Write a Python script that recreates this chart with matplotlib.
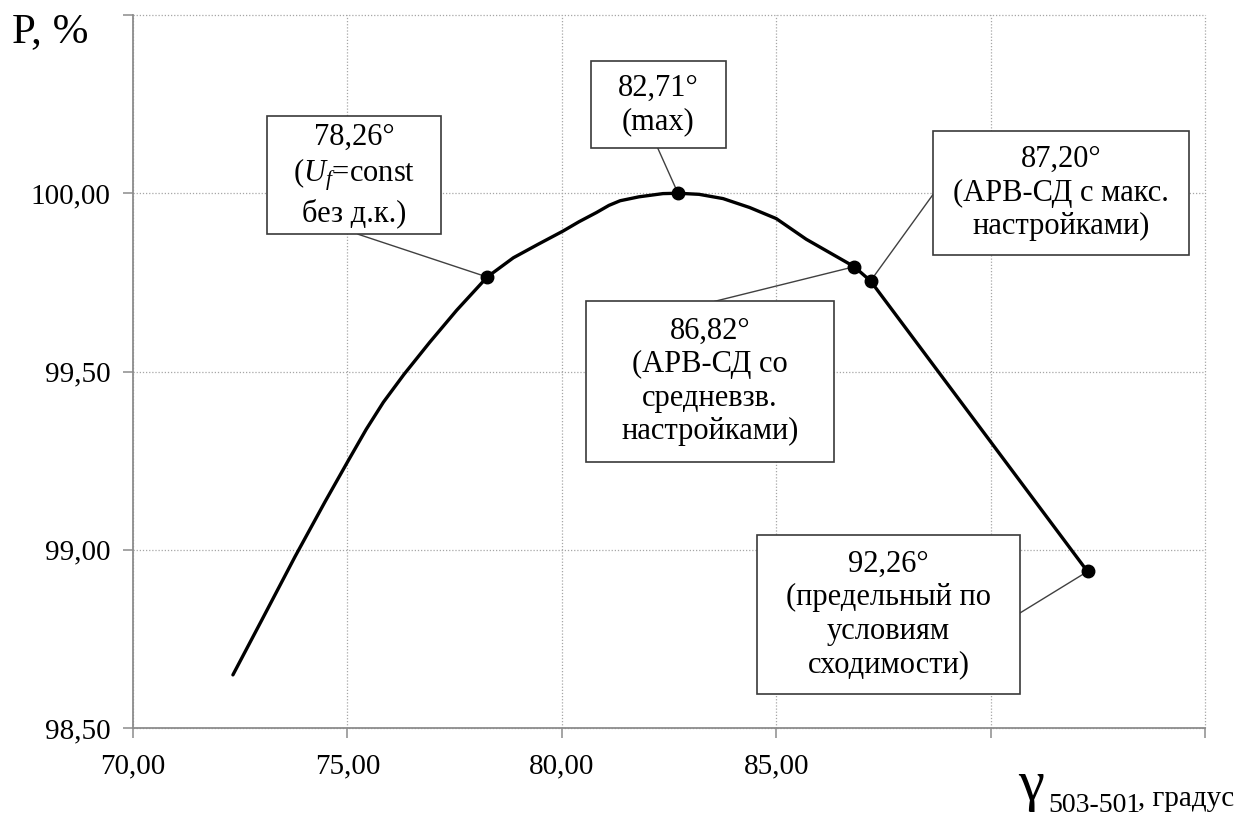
import matplotlib
matplotlib.use("Agg")
import matplotlib.pyplot as plt
from matplotlib.patches import Rectangle

plt.rcParams['font.family'] = ['Liberation Serif', 'DejaVu Serif']
plt.rcParams['mathtext.fontset'] = 'custom'
plt.rcParams['mathtext.rm'] = 'Liberation Serif'
plt.rcParams['mathtext.it'] = 'Liberation Serif:italic'

# Power transfer vs. angle gamma_503-501
curve_x = [72.33, 73.00, 73.78, 74.48, 75.02, 75.44, 75.84, 76.32, 76.92, 77.55,
           78.26, 78.87, 79.45, 80.03, 80.40, 80.81, 81.10, 81.36, 81.80, 82.36,
           82.71, 83.20, 83.76, 84.38, 85.00, 85.70, 86.82, 87.20, 92.26]
curve_y = [98.649, 98.802, 98.981, 99.135, 99.250, 99.338, 99.414, 99.492, 99.582,
           99.672, 99.765, 99.819, 99.857, 99.894, 99.920, 99.946, 99.966, 99.979,
           99.990, 99.999, 100.000, 99.997, 99.985, 99.960, 99.929, 99.871, 99.794,
           99.754, 98.939]

# Highlighted operating points
point_x = [78.26, 82.71, 86.82, 87.20, 92.26]
point_y = [99.765, 100.000, 99.794, 99.754, 98.939]
point_labels = [
    "78,26°\n($U_f$=const\nбез д.к.)",
    "82,71°\n(max)",
    "86,82°\n(АРВ-СД со\nсредневзв.\nнастройками)",
    "87,20°\n(АРВ-СД с макс.\nнастройками)",
    "92,26°\n(предельный по\nусловиям\nсходимости)",
]

x_ticks = [70, 75, 80, 85, 90, 95]
x_tick_labels = ["70,00", "75,00", "80,00", "85,00", "", ""]
y_ticks = [98.5, 99.0, 99.5, 100.0, 100.5]
y_tick_labels = ["98,50", "99,00", "99,50", "100,00", ""]

# Callout layout: box (x0, x1, y0, y1) in data units and leader start point
boxes = [
    (73.13, 77.18, 99.885, 100.216),
    (80.68, 83.83, 100.126, 100.371),
    (80.56, 86.35, 99.247, 99.697),
    (88.66, 94.63, 99.826, 100.174),
    (84.55, 90.69, 98.596, 99.042),
]
leader_start = [
    (75.25, 99.885),
    (82.24, 100.126),
    (83.57, 99.697),
    (88.66, 99.997),
    (90.69, 98.823),
]

W, H = 1241, 816
fig = plt.figure(figsize=(W / 100, H / 100), dpi=100)
ax = fig.add_axes([133 / W, 1 - 728 / H, (1205 - 133) / W, (728 - 15) / H])
ax.set_xlim(70, 95)
ax.set_ylim(98.5, 100.5)

axis_grey = '#8c8c8c'
ax.set_xticks(x_ticks)
ax.set_xticklabels(x_tick_labels)
ax.set_yticks(y_ticks)
ax.set_yticklabels(y_tick_labels)
ax.tick_params(axis='both', direction='out', length=7, width=1.1, color=axis_grey,
               labelsize=21, labelcolor='black')
ax.tick_params(axis='y', pad=9)
ax.tick_params(axis='x', pad=11)

for side in ('top', 'right'):
    ax.spines[side].set_visible(False)
for side in ('left', 'bottom'):
    ax.spines[side].set_color(axis_grey)
    ax.spines[side].set_linewidth(1.3)

ax.grid(True, color='#a6a6a6', linestyle=(0, (1, 1.5)), linewidth=0.9)
for gl in ax.get_xgridlines() + ax.get_ygridlines():
    gl.set_clip_on(False)
ax.set_axisbelow(True)

# Leaders
for (lx, ly), px, py in zip(leader_start, point_x, point_y):
    ax.plot([lx, px], [ly, py], color='#404040', lw=1.0, zorder=3)

# Curve and markers
ax.plot(curve_x, curve_y, color='black', lw=2.4, solid_capstyle='round',
        solid_joinstyle='round', zorder=4)
ax.plot(point_x, point_y, 'o', color='black', markersize=9, zorder=5)

# Callout boxes
for (x0, x1, y0, y1), text in zip(boxes, point_labels):
    ax.add_patch(Rectangle((x0, y0), x1 - x0, y1 - y0, facecolor='white',
                           edgecolor='#3a3a3a', lw=1.2, zorder=6))
    ax.text((x0 + x1) / 2, (y0 + y1) / 2, text, ha='center', va='center',
            fontsize=22, linespacing=1.2, zorder=7)

# Axis titles
fig.text(12 / W, 1 - 42 / H, "P, %", fontsize=31, va='baseline', ha='left')
fig.text(1018 / W, 1 - 800 / H, "γ", fontsize=42, va='baseline', ha='left')
fig.text(1048 / W, 1 - 812 / H, "503-501", fontsize=20, va='baseline', ha='left')
fig.text(1138 / W, 1 - 806 / H, ", градус", fontsize=21, va='baseline', ha='left')

fig.savefig("out.png", dpi=100)
